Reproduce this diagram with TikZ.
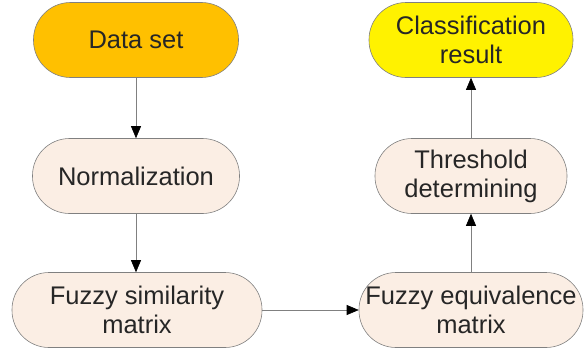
\documentclass[tikz,border=0pt]{standalone}
\usepackage{fontspec}
\setmainfont{Liberation Sans}
\usetikzlibrary{arrows.meta}

\definecolor{gold}{HTML}{FFC000}
\definecolor{peach}{HTML}{FBEEE4}
\definecolor{edgegray}{HTML}{808080}

\begin{document}
\begin{tikzpicture}[x=1pt,y=-1pt,
    stage/.style={draw=edgegray,line width=0.6pt,fill=peach,rounded corners=37pt,
        minimum height=75pt,align=center,font=\fontsize{25.5}{29}\selectfont,
        text=black!85,inner sep=0pt},
    flow/.style={draw=edgegray,line width=0.6pt,-{Triangle[length=12pt,width=10pt,color=black]}}]

\useasboundingbox (0,0) rectangle (585,356);

\node[stage,fill=gold,minimum width=205pt] (data) at (136,40) {Data set};
\node[stage,minimum width=207pt] (norm) at (136,176) {Normalization};
\node[stage,minimum width=250pt] (sim) at (137,310) {Fuzzy similarity\\matrix};
\node[stage,minimum width=224pt] (equiv) at (471,310) {Fuzzy equivalence\\matrix};
\node[stage,minimum width=192pt] (thr) at (471,176) {Threshold\\determining};
\node[stage,fill=yellow,minimum width=204pt] (cls) at (471,40) {Classification\\result};

\draw[flow] (data) -- (norm);
\draw[flow] (norm.south -| data) -- (sim.north -| data);
\draw[flow] (sim) -- (equiv);
\draw[flow] (equiv) -- (thr);
\draw[flow] (thr) -- (cls);

\end{tikzpicture}
\end{document}
